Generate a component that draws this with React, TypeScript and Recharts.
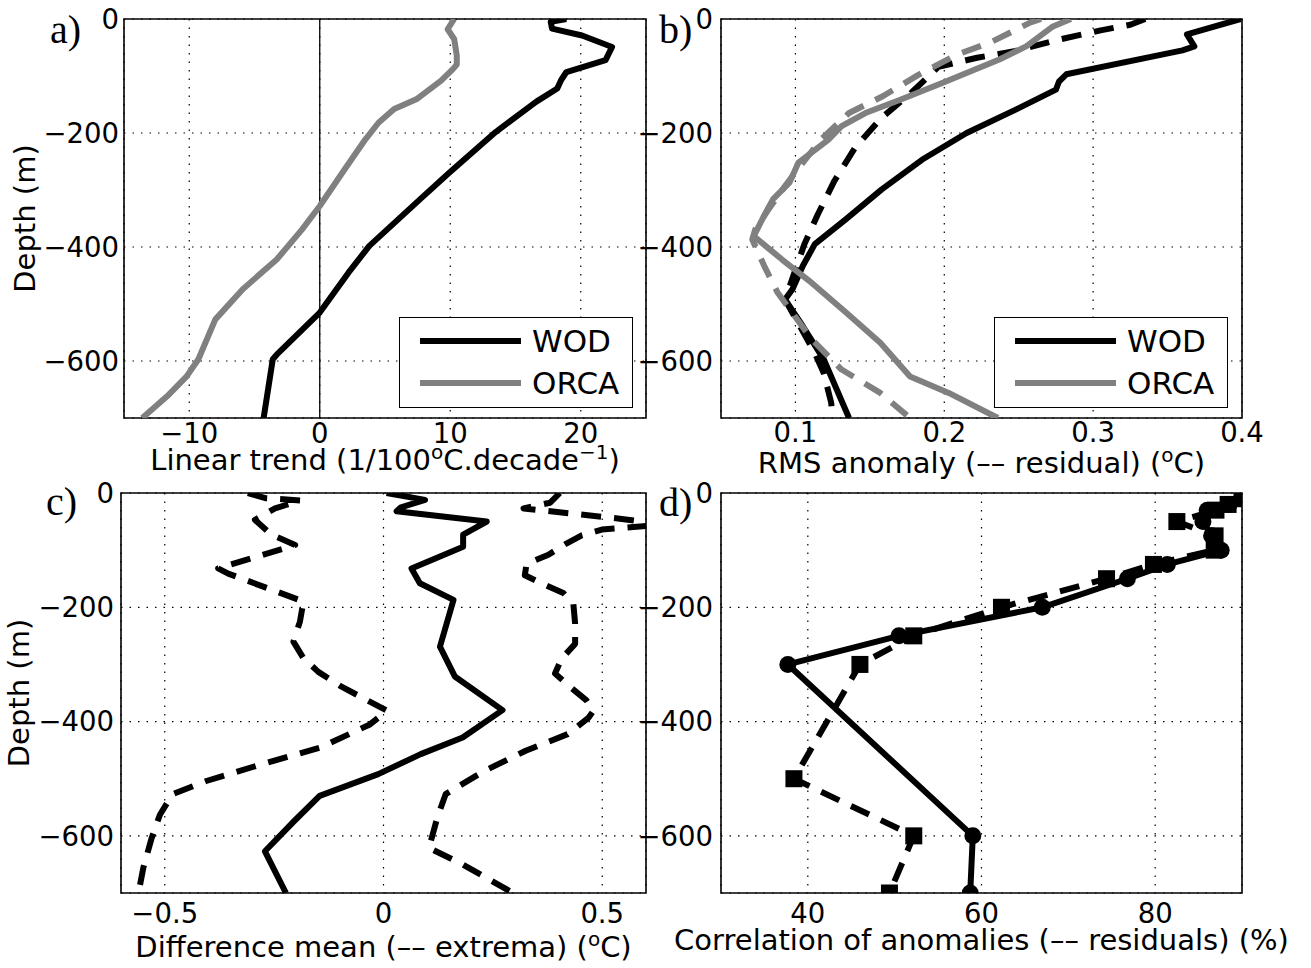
import { CartesianGrid, Legend, Line, LineChart, ReferenceArea, ReferenceLine, XAxis, YAxis } from "recharts"

const FONT = "'DejaVu Sans', sans-serif"
const SERIF = "'Liberation Serif', serif"
const GREY = "#808080"

// axis ticks
const depthTicks = [-600, -400, -200, 0]
const trendTicks = [-10, 0, 10, 20]
const rmsTicks = [0.1, 0.2, 0.3, 0.4]
const diffTicks = [-0.5, 0, 0.5]
const corrTicks = [40, 60, 80]

// a) linear trend, 1/100 degC per decade
const trendWodDepth = [0, -5, -17, -29, -49, -72, -93, -107, -122, -145, -198, -270, -316, -398, -445, -515, -589, -597, -700]
const trendWodValue = [18.9, 17.7, 17.8, 20.1, 22.4, 21.9, 18.9, 18.5, 18.2, 16.6, 13.5, 9.9, 7.7, 3.8, 2.2, 0, -3.3, -3.6, -4.3]
const trendOrcaDepth = [0, -18, -35, -64, -80, -88, -108, -141, -158, -182, -211, -264, -328, -369, -422, -474, -527, -597, -627, -662, -700]
const trendOrcaValue = [10.3, 9.8, 10.3, 10.5, 10.5, 10.2, 9.3, 7.4, 5.7, 4.5, 3.5, 1.9, 0, -1.35, -3.3, -5.9, -8.0, -9.3, -10.2, -11.7, -13.6]

// b) RMS anomaly and residual, degC
const rmsWodDepth = [0, -27, -48, -55, -97, -110, -124, -159, -200, -247, -299, -351, -395, -433, -474, -492, -539, -597, -700]
const rmsWodValue = [0.399, 0.363, 0.368, 0.36, 0.282, 0.277, 0.275, 0.248, 0.215, 0.185, 0.158, 0.134, 0.113, 0.105, 0.098, 0.093, 0.105, 0.119, 0.136]
const rmsWodResDepth = [0, -10, -20, -38, -56, -68, -84, -129, -173, -226, -285, -343, -395, -440, -492, -539, -586, -621, -673, -700]
const rmsWodResValue = [0.335, 0.325, 0.305, 0.274, 0.248, 0.222, 0.196, 0.178, 0.158, 0.14, 0.126, 0.115, 0.106, 0.1, 0.093, 0.103, 0.113, 0.119, 0.124, 0.125]
const rmsOrcaDepth = [0, -13, -48, -71, -112, -142, -165, -188, -212, -252, -287, -316, -345, -381, -422, -463, -515, -568, -627, -656, -700]
const rmsOrcaValue = [0.285, 0.273, 0.255, 0.237, 0.199, 0.17, 0.147, 0.131, 0.122, 0.102, 0.096, 0.085, 0.079, 0.072, 0.091, 0.111, 0.134, 0.157, 0.177, 0.203, 0.236]
const rmsOrcaResDepth = [0, -6, -41, -63, -99, -135, -165, -212, -252, -293, -334, -369, -387, -433, -480, -498, -562, -615, -656, -700]
const rmsOrcaResValue = [0.265, 0.258, 0.231, 0.208, 0.182, 0.159, 0.136, 0.117, 0.105, 0.093, 0.082, 0.073, 0.071, 0.079, 0.088, 0.093, 0.111, 0.131, 0.157, 0.177]

// c) difference of the mean and of the extrema, degC
const diffMeanDepth = [0, -12, -25, -32, -50, -73, -94, -132, -158, -187, -269, -321, -380, -428, -457, -492, -530, -574, -627, -700]
const diffMeanValue = [0.007, 0.095, 0.04, 0.03, 0.236, 0.182, 0.182, 0.064, 0.083, 0.16, 0.129, 0.163, 0.272, 0.181, 0.085, -0.012, -0.146, -0.204, -0.271, -0.223]
const diffMinDepth = [0, -9, -13, -27, -47, -73, -91, -132, -141, -190, -225, -260, -289, -313, -339, -381, -405, -446, -475, -504, -527, -563, -604, -656, -700]
const diffMinValue = [-0.31, -0.27, -0.19, -0.248, -0.294, -0.256, -0.202, -0.378, -0.355, -0.183, -0.191, -0.206, -0.183, -0.149, -0.096, 0.008, -0.031, -0.146, -0.28, -0.405, -0.482, -0.511, -0.53, -0.549, -0.56]
const diffMaxDepth = [0, -17, -27, -45, -55, -64, -74, -88, -108, -124, -144, -161, -175, -194, -229, -264, -290, -316, -339, -363, -381, -393, -422, -451, -487, -527, -568, -621, -650, -700]
const diffMaxValue = [0.403, 0.381, 0.32, 0.54, 0.64, 0.499, 0.453, 0.419, 0.377, 0.327, 0.323, 0.369, 0.411, 0.434, 0.438, 0.438, 0.407, 0.392, 0.426, 0.464, 0.48, 0.469, 0.421, 0.325, 0.229, 0.142, 0.123, 0.104, 0.181, 0.296]

// d) correlation of anomalies and of residuals, %
const corrDepth = [-10, -20, -30, -50, -75, -100, -125, -150, -200, -250, -300, -600, -700]
const corrValue = [90.0, 88.5, 86.0, 85.5, 86.5, 87.6, 81.4, 76.8, 67.0, 50.5, 37.7, 59.0, 58.7]
const corrResDepth = [-10, -20, -30, -50, -75, -100, -125, -150, -200, -250, -300, -500, -600, -700]
const corrResValue = [90.0, 88.4, 87.0, 82.5, 86.9, 86.8, 79.8, 74.4, 62.3, 52.2, 46.0, 38.4, 52.2, 49.4]

type Pt = { depth: number; value: number }
const profile = (depth: number[], value: number[]): Pt[] => depth.map((d, i) => ({ depth: d, value: value[i] }))

const fmt = (v: number) => (v < 0 ? `\u2212${-v}` : `${v}`)

type TitlePart = { text: string; sup?: boolean }
type SeriesDef = {
  name: string
  data: Pt[]
  color: string
  dash?: string
  marker?: "circle" | "square"
  inLegend?: boolean
}

const circleDot = (props: any) => (
  <circle key={`c${props.index}`} cx={props.cx} cy={props.cy} r={8.5} fill="#000" />
)
const squareDot = (props: any) => (
  <rect key={`s${props.index}`} x={props.cx - 8.5} y={props.cy - 8.5} width={17} height={17} fill="#000" />
)

function AxisTitle({ parts, x, y }: { parts: TitlePart[]; x: number; y: number }) {
  return (
    <text x={x} y={y} textAnchor="middle" fontFamily={FONT} fontSize={29} fill="#000">
      {parts.map((p, i) => {
        const prevSup = i > 0 && parts[i - 1].sup
        const dy = p.sup ? -11 : prevSup ? 11 : 0
        return (
          <tspan key={i} dy={dy} fontSize={p.sup ? 20 : 29}>
            {p.text}
          </tspan>
        )
      })}
    </text>
  )
}

// boxed legend, keeps the series order and skips the residual curves
function LegendBox({ payload, order }: any) {
  const items = order
    .map((name: string) => (payload ?? []).find((p: any) => p.value === name))
    .filter(Boolean)
  return (
    <div
      style={{
        position: "relative",
        width: 234,
        height: 91,
        boxSizing: "border-box",
        border: "1.5px solid #000",
        background: "#fff",
      }}
    >
      {items.map((p: any, i: number) => (
        <div
          key={p.value}
          style={{ position: "absolute", left: 0, top: 2 + i * 42, height: 42, display: "flex", alignItems: "center" }}
        >
          <svg width={122} height={12}>
            <line x1={20} x2={121} y1={6} y2={6} stroke={p.color} strokeWidth={6} />
          </svg>
          <span style={{ marginLeft: 10, fontFamily: FONT, fontSize: 31, color: "#000", lineHeight: "42px" }}>
            {p.value}
          </span>
        </div>
      ))}
    </div>
  )
}

type PanelProps = {
  left: number
  top: number
  width: number
  height: number
  // outer edges of the plot box inside the chart
  box: { top: number; right: number; bottom: number; left: number }
  xDomain: [number, number]
  xTicks: number[]
  xTitle: TitlePart[]
  xTitleOffset: number
  xTickGap: number
  yTickGap: number
  yTitleX?: number
  letter: string
  letterX: number
  letterY: number
  series: SeriesDef[]
  legendAt?: { left: number; top: number }
  zeroLine?: boolean
}

const AXIS_H = 40
const AXIS_W = 100

function Panel(p: PanelProps) {
  const plotW = p.width - p.box.left - p.box.right
  const plotH = p.height - p.box.top - p.box.bottom
  const plotBottom = p.box.top + plotH
  const tickStyle = { fill: "#000", fontSize: 27.5, fontFamily: FONT }
  const margin = {
    top: p.box.top,
    right: p.box.right,
    bottom: p.box.bottom - AXIS_H,
    left: p.box.left - AXIS_W,
  }
  const legendOrder = p.series.filter((s) => s.inLegend).map((s) => s.name)

  return (
    <LineChart
      layout="vertical"
      width={p.width}
      height={p.height}
      margin={margin}
      style={{ position: "absolute", left: p.left, top: p.top }}
    >
      <CartesianGrid stroke="#000" strokeWidth={1.2} strokeDasharray="1.5 7" />
      <XAxis
        type="number"
        dataKey="value"
        domain={p.xDomain}
        ticks={p.xTicks}
        allowDataOverflow
        interval={0}
        tickFormatter={fmt}
        axisLine={false}
        tickLine={false}
        tickSize={1}
        tickMargin={p.xTickGap}
        height={AXIS_H}
        tick={tickStyle}
        label={() => (
          <AxisTitle parts={p.xTitle} x={p.box.left + plotW / 2} y={plotBottom + p.xTitleOffset} />
        )}
      />
      <YAxis
        type="number"
        dataKey="depth"
        domain={[-700, 0]}
        ticks={depthTicks}
        reversed
        allowDataOverflow
        interval={0}
        tickFormatter={fmt}
        axisLine={false}
        tickLine={false}
        tickSize={1}
        tickMargin={p.yTickGap}
        width={AXIS_W}
        tick={tickStyle}
        label={() =>
          p.yTitleX !== undefined ? (
            <text
              x={p.yTitleX}
              y={p.box.top + plotH / 2}
              transform={`rotate(-90, ${p.yTitleX}, ${p.box.top + plotH / 2})`}
              textAnchor="middle"
              fontFamily={FONT}
              fontSize={29}
              fill="#000"
            >
              Depth (m)
            </text>
          ) : null
        }
      />
      {p.zeroLine && <ReferenceLine x={0} stroke="#000" strokeWidth={1.3} />}
      <ReferenceArea
        x1={p.xDomain[0]}
        x2={p.xDomain[1]}
        y1={-700}
        y2={0}
        fill="none"
        fillOpacity={0}
        stroke="#000"
        strokeWidth={1.6}
      />
      {p.series.map((s) => (
        <Line
          key={s.name}
          name={s.name}
          data={s.data}
          dataKey="value"
          type="linear"
          stroke={s.color}
          strokeWidth={6}
          strokeDasharray={s.dash}
          strokeLinejoin="round"
          dot={s.marker === "circle" ? circleDot : s.marker === "square" ? squareDot : false}
          activeDot={false}
          legendType={s.inLegend ? "line" : "none"}
          isAnimationActive={false}
        />
      ))}
      {p.legendAt && (
        <Legend
          layout="vertical"
          align="center"
          verticalAlign="middle"
          wrapperStyle={{ left: p.legendAt.left, top: p.legendAt.top, width: 234 }}
          content={<LegendBox order={legendOrder} />}
        />
      )}
      <text x={p.letterX} y={p.letterY} fontFamily={SERIF} fontSize={40} fill="#000">
        {p.letter}
      </text>
    </LineChart>
  )
}

const DASH = "20 13"

export default function App() {
  return (
    <div style={{ position: "absolute", left: 0, top: 0, width: 1311, height: 968, background: "#fff" }}>
      <Panel
        left={0}
        top={0}
        width={660}
        height={482}
        box={{ top: 19, right: 14, bottom: 64, left: 124 }}
        xDomain={[-15, 25]}
        xTicks={trendTicks}
        xTitle={[
          { text: "Linear trend (1/100" },
          { text: "o", sup: true },
          { text: "C.decade" },
          { text: "\u22121", sup: true },
          { text: ")" },
        ]}
        xTitleOffset={52}
        xTickGap={4}
        yTickGap={4}
        yTitleX={35}
        letter="a)"
        letterX={50}
        letterY={43}
        zeroLine
        legendAt={{ left: 399, top: 317 }}
        series={[
          { name: "WOD", data: profile(trendWodDepth, trendWodValue), color: "#000", inLegend: true },
          { name: "ORCA", data: profile(trendOrcaDepth, trendOrcaValue), color: GREY, inLegend: true },
        ]}
      />
      <Panel
        left={600}
        top={0}
        width={711}
        height={482}
        box={{ top: 19, right: 69, bottom: 64, left: 121 }}
        xDomain={[0.05, 0.4]}
        xTicks={rmsTicks}
        xTitle={[{ text: "RMS anomaly (\u2013\u2013 residual) (" }, { text: "o", sup: true }, { text: "C)" }]}
        xTitleOffset={55}
        xTickGap={3}
        yTickGap={7}
        letter="b)"
        letterX={59}
        letterY={43}
        legendAt={{ left: 394, top: 317 }}
        series={[
          { name: "WOD", data: profile(rmsWodDepth, rmsWodValue), color: "#000", inLegend: true },
          { name: "WOD residual", data: profile(rmsWodResDepth, rmsWodResValue), color: "#000", dash: DASH },
          { name: "ORCA", data: profile(rmsOrcaDepth, rmsOrcaValue), color: GREY, inLegend: true },
          { name: "ORCA residual", data: profile(rmsOrcaResDepth, rmsOrcaResValue), color: GREY, dash: DASH },
        ]}
      />
      <Panel
        left={0}
        top={470}
        width={660}
        height={498}
        box={{ top: 23, right: 14, bottom: 75, left: 121 }}
        xDomain={[-0.6, 0.6]}
        xTicks={diffTicks}
        xTitle={[{ text: "Difference mean (\u2013\u2013 extrema) (" }, { text: "o", sup: true }, { text: "C)" }]}
        xTitleOffset={64}
        xTickGap={9}
        yTickGap={6}
        yTitleX={29}
        letter="c)"
        letterX={46}
        letterY={45}
        series={[
          { name: "mean", data: profile(diffMeanDepth, diffMeanValue), color: "#000" },
          { name: "min", data: profile(diffMinDepth, diffMinValue), color: "#000", dash: DASH },
          { name: "max", data: profile(diffMaxDepth, diffMaxValue), color: "#000", dash: DASH },
        ]}
      />
      <Panel
        left={600}
        top={470}
        width={711}
        height={498}
        box={{ top: 23, right: 69, bottom: 75, left: 121 }}
        xDomain={[30, 90]}
        xTicks={corrTicks}
        xTitle={[{ text: "Correlation of anomalies (\u2013\u2013 residuals) (%)" }]}
        xTitleOffset={57}
        xTickGap={9}
        yTickGap={7}
        letter="d)"
        letterX={59}
        letterY={46}
        series={[
          { name: "anomalies", data: profile(corrDepth, corrValue), color: "#000", marker: "circle" },
          { name: "residuals", data: profile(corrResDepth, corrResValue), color: "#000", dash: DASH, marker: "square" },
        ]}
      />
    </div>
  )
}
